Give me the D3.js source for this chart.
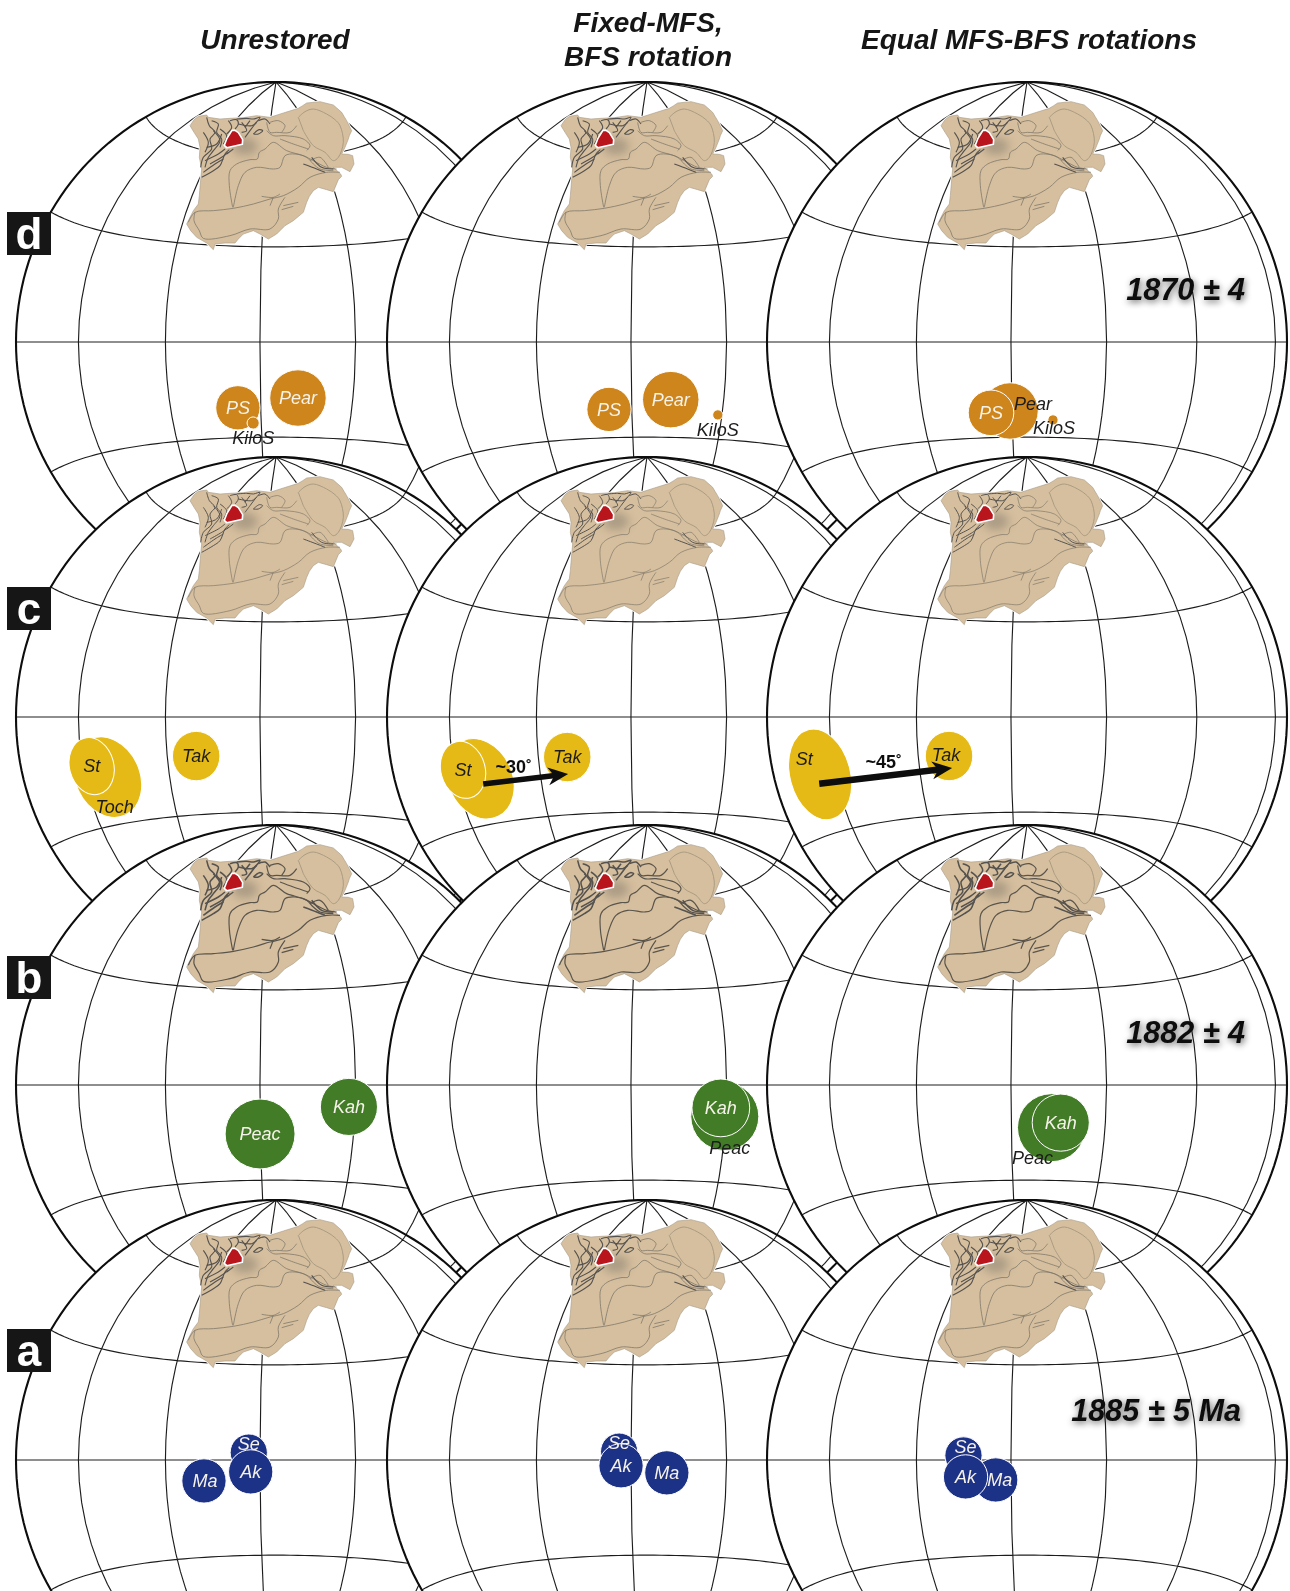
<!DOCTYPE html>
<html><head><meta charset="utf-8">
<script src="https://cdnjs.cloudflare.com/ajax/libs/d3/7.8.5/d3.min.js"></script>
<style>html,body{margin:0;padding:0;background:#fff}svg{display:block}text{font-family:"Liberation Sans",Arial,sans-serif}</style>
</head><body>
<svg id="chart" width="1290" height="1591"></svg>
<script>
// ---------- data ----------
const columnTitles = [["Unrestored"], ["Fixed-MFS,", "BFS rotation"], ["Equal MFS-BFS rotations"]];
const rowLetters = ["d", "c", "b", "a"];
const ageLabels = { d: "1870 ± 4", c: "", b: "1882 ± 4", a: "1885 ± 5 Ma" };

// [column, name, lon, lat, semi-axis a (deg), semi-axis b (deg), azimuth (deg)]
const polesD = [
  [0, "PS", -7.5, -20.5, 6.9, 6.9, 0], [0, "Pear", 12.1, -17.5, 8.8, 8.8, 0], [0, "KiloS", -2.7, -25.4, 1.9, 1.9, 0],
  [1, "PS", -7.5, -21, 6.9, 6.9, 0], [1, "Pear", 12.7, -18, 8.8, 8.8, 0], [1, "KiloS", 28.6, -22.4, 1.6, 1.6, 0],
  [2, "Pear", -0.6, -21.6, 8.8, 8.8, 0], [2, "PS", -6.9, -22.1, 7.1, 7.1, 0], [2, "KiloS", 13.7, -24.4, 1.6, 1.6, 0]
];
const polesC = [
  [0, "Toch", -51.6, -16.6, 10, 13, -25], [0, "St", -56.7, -13.2, 6.9, 9, -15], [0, "Tak", -20.5, -11.9, 7.4, 7.7, 0],
  [1, "Toch", -51.2, -17.1, 10, 13, -25], [1, "St", -56.8, -14.2, 6.9, 9, -15], [1, "Tak", -20.5, -12.2, 7.4, 7.7, 0],
  [2, "St", -65.8, -14.7, 9.4, 14.4, -15], [2, "Tak", -19.9, -11.9, 7.4, 7.7, 0]
];
const polesB = [
  [0, "Peac", -0.1, -15.3, 10.9, 10.9, 0], [0, "Kah", 28, -6.7, 8.9, 8.9, 0],
  [1, "Peac", 29.7, -9.6, 10.6, 10.6, 0], [1, "Kah", 28.3, -7, 9, 9, 0],
  [2, "Peac", 12.8, -13.3, 10.6, 10.6, 0], [2, "Kah", 15.7, -11.7, 8.9, 8.9, 0]
];
const polesA = [
  [0, "Ma", -17.7, -6.4, 6.9, 6.9, 0], [0, "Se", -3.5, 2.3, 5.8, 5.8, 0], [0, "Ak", -2.9, -3.7, 6.9, 6.9, 0],
  [1, "Ma", 11.2, -4, 6.9, 6.9, 0], [1, "Se", -3.7, 2.6, 5.8, 5.8, 0], [1, "Ak", -3.1, -1.8, 6.9, 6.9, 0],
  [2, "Ma", -4.8, -6.2, 6.9, 6.9, 0], [2, "Se", -14.9, 1.4, 5.8, 5.8, 0], [2, "Ak", -14.3, -5.2, 6.9, 6.9, 0]
];
// [column, label, from lon, from lat, to lon, to lat]
const rotationArrows = [
  [1, "~30˚", -50.5, -18.6, -20.7, -17.4],
  [2, "~45˚", -67, -17, -19.2, -15.6]
];

// craton map traced in its own 600 x 540 drawing units
const cratonOutline = [[60,110],[72,92],[85,82],[110,78],[115,85],[150,90],[180,88],[220,86],[260,80],[300,85],[340,72],[385,58],[398,50],[410,42],[450,38],[490,48],[515,70],[522,82],[530,95],[545,125],[538,140],[535,150],[525,175],[515,195],[535,196],[548,200],[552,225],[540,248],[515,235],[490,235],[512,255],[515,262],[505,272],[490,308],[470,302],[445,295],[430,305],[418,322],[410,340],[400,370],[370,395],[345,410],[320,435],[295,450],[270,435],[250,425],[220,435],[205,450],[195,462],[165,462],[135,465],[130,482],[110,462],[80,445],[62,425],[50,405],[70,365],[85,345],[88,320],[90,295],[95,240],[88,205],[90,175],[85,150],[72,130]];
const cratonRing = [[385,85],[405,68],[430,60],[470,75],[495,92],[510,110],[520,160],[505,205],[490,215],[465,190],[430,170],[400,125]];
const cratonDarkLines = [
  [[110,85],[118,110],[135,130],[120,150],[125,180],[100,205],[92,235]],
  [[130,125],[150,155],[130,185],[115,205],[105,235]],
  [[95,265],[130,245],[150,230],[165,195],[178,182]],
  [[105,215],[145,195],[165,180]],
  [[125,95],[145,105],[140,130],[155,150],[150,175]],
  [[180,95],[200,92],[205,105],[195,120]],
  [[200,90],[230,88],[250,90],[270,85],[255,105],[240,125],[225,145]],
  [[205,105],[245,110],[260,100]],
  [[250,135],[268,122],[278,125],[265,135],[250,135]],
  [[100,130],[115,160],[105,190]],
  [[150,120],[170,140],[160,165]],
  [[120,225],[155,205],[175,190]],
  [[100,250],[135,225],[160,210]],
  [[175,95],[185,115],[170,135]],
  [[215,100],[230,125],[215,130]],
  [[240,95],[225,115]],
  [[265,95],[285,90],[300,105]],
  [[170,195],[190,180]],
  [[110,175],[140,165],[155,135]],
  [[425,205],[455,235],[490,240]],
  [[400,225],[440,240],[465,250]]
];
const cratonLines = [
  [[188,355],[178,290],[180,245],[200,225],[240,212],[262,210],[268,190],[285,180],[310,160],[350,185],[400,200],[430,215],[470,235],[500,240]],
  [[190,355],[205,290],[225,250],[260,235],[310,240],[330,235],[345,200],[375,195],[410,205],[430,225],[450,240],[490,245]],
  [[55,400],[75,370],[130,365],[190,358],[250,345],[300,330],[340,320],[385,295],[420,265],[470,250],[510,250]],
  [[75,370],[72,395],[88,425],[100,448],[180,440],[240,420],[300,420],[325,390],[325,360],[345,325]],
  [[275,322],[310,325],[330,315]], [[300,350],[310,325]], [[340,350],[385,340]], [[335,362],[370,352]],
  [[290,100],[300,130],[320,130],[360,130],[380,110]], [[290,125],[310,140],[345,140],[400,150],[420,170],[410,185]],
  [[330,150],[370,165],[415,180]], [[420,215],[450,205],[475,235]], [[300,100],[325,95],[345,110],[335,130]]
];
const redBlock = [[186,124],[195,124],[205,131],[218,152],[217,166],[170,176],[163,169],[171,148]];

// ---------- layout ----------
const colX = [276, 647, 1027], rowY = [342, 717, 1085, 1460];
const radius = 260;
const poleColor = { d: "#cd851c", c: "#e5ba18", b: "#437c27", a: "#1f3186" };
const mapStroke = { d: 0.75, c: 0.65, b: 1.2, a: 0.75 };
const darkText = new Set(["St","Tak","Toch","KiloS"]);
// label nudges, row-column-name -> px
const labelShift = {
  "d-0-KiloS":[0,15], "d-1-KiloS":[0,15], "d-2-KiloS":[1,8], "d-2-Pear":[23,-7],
  "c-0-Toch":[7,30], "c-2-St":[-16,-16], "c-2-Tak":[-3,-1],
  "b-1-Peac":[5,31], "b-2-Peac":[-19,30],
  "a-0-Se":[0,-9], "a-1-Se":[0,-9], "a-2-Se":[2,-9], "a-2-Ma":[4,0], "a-0-Ma":[1,0]
};
const darkLabels = new Set(["d-2-Pear","b-1-Peac","b-2-Peac"]);
const unlabelled = new Set(["c-1-Toch"]);

const root = d3.select("#chart");
const defs = root.append("defs");
const soften = defs.append("filter").attr("id","soften").attr("filterUnits","userSpaceOnUse")
  .attr("x",0).attr("y",0).attr("width",1290).attr("height",1591);
soften.append("feGaussianBlur").attr("stdDeviation",0.4);
const blur = defs.append("filter").attr("id","halo").attr("x","-80%").attr("y","-80%").attr("width","260%").attr("height","260%");
blur.append("feGaussianBlur").attr("stdDeviation",5);
const soft = defs.append("filter").attr("id","ageShadow").attr("x","-15%").attr("y","-40%").attr("width","130%").attr("height","180%");
soft.append("feGaussianBlur").attr("in","SourceAlpha").attr("stdDeviation",3.6).attr("result","b");
soft.append("feOffset").attr("in","b").attr("dx",1).attr("dy",2).attr("result","o");
soft.append("feComponentTransfer").attr("in","o").attr("result","t").append("feFuncA").attr("type","linear").attr("slope",0.62);
const sm = soft.append("feMerge"); sm.append("feMergeNode").attr("in","t"); sm.append("feMergeNode").attr("in","SourceGraphic");

const svg = root.append("g").attr("filter","url(#soften)");
svg.append("rect").attr("width",1290).attr("height",1591).attr("fill","#fff");

const graticule = d3.geoGraticule().extent([[-180,-90],[180.01,90.01]]).step([30,30]);
const pxPerDeg = radius / Math.SQRT2 * Math.PI / 180;
const polesByRow = { d: polesD, c: polesC, b: polesB, a: polesA };
const rawLine = d3.line();
const curved = d3.line().curve(d3.curveCatmullRom.alpha(0.5));

rowLetters.forEach((rowName, ri) => {
  colX.forEach((cx, ci) => {
    const cy = rowY[ri];
    const projection = d3.geoAzimuthalEqualArea()
      .scale(radius / Math.SQRT2).translate([cx, cy]).rotate([-5, 0]).clipAngle(90).precision(0.3);
    const path = d3.geoPath(projection);
    const g = svg.append("g").attr("class", `panel-${rowName}-${ci}`);

    g.append("path").datum({type:"Sphere"}).attr("d", path).attr("fill","#fff").attr("stroke","none");
    g.append("path").datum(graticule()).attr("d", path).attr("fill","none").attr("stroke","#1f1f1f").attr("stroke-width",1.15);
    g.append("path").datum({type:"Sphere"}).attr("d", path).attr("fill","none").attr("stroke","#0c0c0c").attr("stroke-width",2.1);

    // craton
    const mx = d3.scaleLinear().domain([0,600]).range([cx-106, cx+94]);
    const my = d3.scaleLinear().domain([0,540]).range([cy-253, cy-73]);
    const pts = a => a.map(p => [mx(p[0]), my(p[1])]);
    g.append("path").attr("d", rawLine(pts(cratonOutline))+"Z").attr("fill","#fff").attr("stroke","#fff").attr("stroke-width",2.2).attr("stroke-linejoin","round");
    g.append("path").attr("d", rawLine(pts(cratonOutline))+"Z").attr("fill","#d6bf9e").attr("stroke","#a69a87").attr("stroke-width",0.6).attr("stroke-linejoin","round");
    const w = mapStroke[rowName];
    cratonLines.forEach(l => g.append("path").attr("d", curved(pts(l))).attr("fill","none").attr("stroke", rowName==="b"?"#5a544c":"#7b7468").attr("stroke-width", w));
    g.append("path").attr("d", curved(pts(cratonRing))+"Z").attr("fill","none").attr("stroke","#a5977f").attr("stroke-width", 0.9);
    cratonDarkLines.forEach(l => g.append("path").attr("d", curved(pts(l))).attr("fill","none").attr("stroke","#55524f").attr("stroke-width", w+0.35));
    g.append("ellipse").attr("cx",mx(225)).attr("cy",my(172)).attr("rx",13).attr("ry",9).attr("fill","#6d675f").attr("opacity",0.4).attr("filter","url(#halo)");
    g.append("path").attr("d", rawLine(pts(redBlock))+"Z").attr("fill","#b8121b").attr("stroke","#fff").attr("stroke-width",1.6).attr("stroke-linejoin","round");

    // poles
    const poles = polesByRow[rowName].filter(p => p[0] === ci);
    poles.forEach(p => {
      const [px, py] = projection([p[2], p[3]]);
      g.append("ellipse").attr("cx",px).attr("cy",py)
        .attr("rx", p[4]*pxPerDeg).attr("ry", p[5]*pxPerDeg)
        .attr("transform", `rotate(${p[6]} ${px} ${py})`)
        .attr("fill", poleColor[rowName]).attr("stroke","#fff").attr("stroke-width",1);
    });
    poles.forEach(p => {
      const [px, py] = projection([p[2], p[3]]);
      const key = `${rowName}-${ci}-${p[1]}`;
      if (unlabelled.has(key)) return;
      const s = labelShift[key] || [0,0];
      const dark = darkText.has(p[1]) || darkLabels.has(key);
      g.append("text").attr("x",px+s[0]).attr("y",py+s[1]).attr("dy","0.35em")
        .attr("text-anchor","middle").attr("font-size",18).attr("font-style","italic")
        .attr("fill", dark ? "#1c1c1c" : "#f6f3ea").text(p[1]);
    });

    // rotation arrows in row c
    if (rowName === "c") rotationArrows.filter(a => a[0] === ci).forEach(a => {
      const p0 = projection([a[2],a[3]]), p1 = projection([a[4],a[5]]);
      const deg = Math.atan2(p1[1]-p0[1], p1[0]-p0[0])*180/Math.PI;
      const len = Math.hypot(p1[0]-p0[0], p1[1]-p0[1]);
      const ag = g.append("g").attr("transform",`translate(${p0[0]},${p0[1]}) rotate(${deg})`);
      ag.append("line").attr("x1",0).attr("y1",0).attr("x2",len-9).attr("y2",0).attr("stroke","#0b0b0b").attr("stroke-width",ci===1?5.5:6.5);
      ag.append("path").attr("d",`M${len},0L${len-20},-9L${len-14},0L${len-20},9Z`).attr("fill","#0b0b0b");
      const mid = [(p0[0]+p1[0])/2+(ci===1?-12:-2), (p0[1]+p1[1])/2-(ci===1?12:14)];
      g.append("text").attr("x",mid[0]).attr("y",mid[1]).attr("dy","0.35em").attr("text-anchor","middle")
        .attr("font-size",18).attr("font-weight","bold").attr("fill","#111").text(a[1]);
    });
  });
});

// age labels in the right column
rowLetters.forEach((rowName, ri) => {
  if (!ageLabels[rowName]) return;
  const xRight = rowName==="a" ? 1241 : 1245;
  svg.append("text").attr("x", xRight).attr("y", rowY[ri] + (rowName==="a"?-50:-53)).attr("dy","0.35em")
    .attr("text-anchor","end").attr("font-size",30.6).attr("font-weight","bold").attr("font-style","italic")
    .attr("fill","#0e0e0e").attr("filter","url(#ageShadow)").text(ageLabels[rowName]);
});

// panel letters
rowLetters.forEach((rowName, ri) => {
  const top = rowY[ri] - 130 + [0,0,1,-1][ri];
  svg.append("rect").attr("x",7).attr("y",top).attr("width",44).attr("height",43).attr("fill","#161616");
  svg.append("text").attr("x",29).attr("y",top+21.5).attr("dy","0.35em").attr("text-anchor","middle")
    .attr("font-size",44).attr("font-weight","bold").attr("fill","#fff").text(rowName);
});

// column titles
columnTitles.forEach((lines, i) => {
  const cx = [275, 648, 1029][i];
  const y0 = lines.length === 1 ? 39 : 22;
  lines.forEach((t, k) => {
    svg.append("text").attr("x",cx).attr("y",y0 + k*34).attr("dy","0.35em").attr("text-anchor","middle")
      .attr("font-size",28).attr("font-weight","bold").attr("font-style","italic").attr("fill","#151515").text(t);
  });
});
</script>
</body></html>
